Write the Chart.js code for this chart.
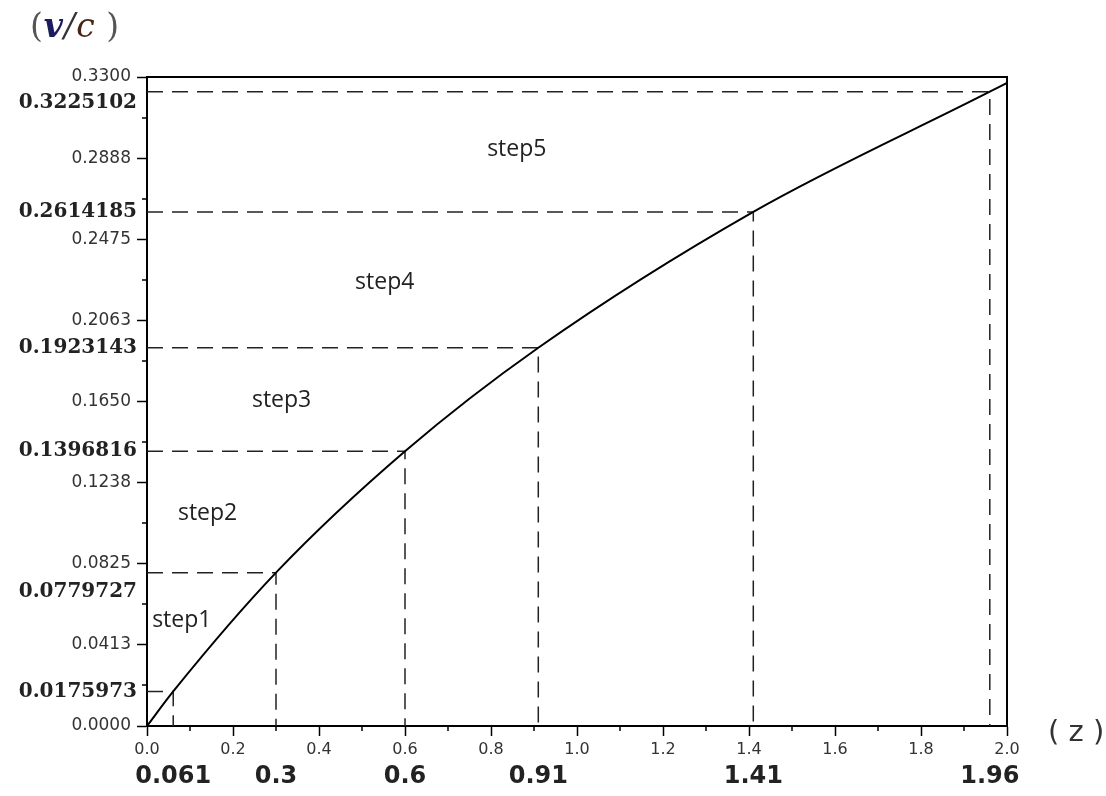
<!DOCTYPE html>
<html>
<head>
<meta charset="utf-8">
<title>v/c against z</title>
<script src="https://cdn.jsdelivr.net/npm/chart.js@4.4.0/dist/chart.umd.min.js"></script>
<style>
  html, body { margin: 0; padding: 0; background: #fff; }
  #wrap { width: 1106px; height: 796px; }
</style>
</head>
<body>
<div id="wrap"><canvas id="myChart" width="1106" height="796"></canvas></div>
<script>
// where each step ends (z) and the v/c read there
var stepZ = [0.061, 0.3, 0.6, 0.91, 1.41, 1.96];
var stepV = [0.0175973, 0.0779727, 0.1396816, 0.1923143, 0.2614185, 0.3225102];
var stepZLabels = ['0.061', '0.3', '0.6', '0.91', '1.41', '1.96'];
var stepVLabels = ['0.0175973', '0.0779727', '0.1396816', '0.1923143', '0.2614185', '0.3225102'];
var stepNames = ['step1', 'step2', 'step3', 'step4', 'step5'];

// the curve
var curveZ = [0, 0.061, 0.3, 0.6, 0.91, 1.41, 1.96, 2.0];
var curveV = [0, 0.0175973, 0.0779727, 0.1396816, 0.1923143, 0.2614185, 0.3225102, 0.327];

// axis ticks
var xTickValues = [0, 0.2, 0.4, 0.6, 0.8, 1.0, 1.2, 1.4, 1.6, 1.8, 2.0];
var xTickLabels = ['0.0', '0.2', '0.4', '0.6', '0.8', '1.0', '1.2', '1.4', '1.6', '1.8', '2.0'];
var yTickValues = [0, 0.04125, 0.0825, 0.12375, 0.165, 0.20625, 0.2475, 0.28875, 0.33];
var yTickLabels = ['0.0000', '0.0413', '0.0825', '0.1238', '0.1650', '0.2063', '0.2475', '0.2888', '0.3300'];


// extra drawing: box, minor ticks, bold step values, step names, axis names
var decorations = {
  id: 'decorations',
  afterDraw: function(chart, args, opts) {
    var ctx = chart.ctx;
    var area = chart.chartArea;
    var xs = chart.scales.x, ys = chart.scales.y;
    ctx.save();

    // top + right edge of the box
    ctx.strokeStyle = '#000';
    ctx.lineWidth = 2;
    ctx.beginPath();
    ctx.moveTo(area.left, area.top);
    ctx.lineTo(area.right, area.top);
    ctx.lineTo(area.right, area.bottom);
    ctx.stroke();

    // minor ticks half way between the labelled ones
    ctx.lineWidth = 1.5;
    ctx.beginPath();
    for (var i = 0; i < xTickValues.length - 1; i++) {
      var px = Math.round(xs.getPixelForValue((xTickValues[i] + xTickValues[i + 1]) / 2));
      ctx.moveTo(px, area.bottom);
      ctx.lineTo(px, area.bottom + 5);
    }
    for (var j = 0; j < yTickValues.length - 1; j++) {
      var py = Math.round(ys.getPixelForValue((yTickValues[j] + yTickValues[j + 1]) / 2));
      ctx.moveTo(area.left, py);
      ctx.lineTo(area.left - 5, py);
    }
    ctx.stroke();

    // bold v/c values on the left
    ctx.fillStyle = '#222';
    ctx.font = 'bold 20px "DejaVu Serif"';
    ctx.textAlign = 'right';
    ctx.textBaseline = 'middle';
    stepV.forEach(function(v, k) {
      ctx.fillText(stepVLabels[k], area.left - 10, ys.getPixelForValue(v) + opts.vNudge[k]);
    });

    // bold z values under the axis
    ctx.font = 'bold 24px "DejaVu Sans"';
    ctx.textAlign = 'center';
    stepZ.forEach(function(z, k) {
      ctx.fillText(stepZLabels[k], xs.getPixelForValue(z), area.bottom + 51);
    });

    // step names
    ctx.font = '23px "Open Sans"';
    ctx.textAlign = 'left';
    stepNames.forEach(function(name, k) {
      var a = opts.nameAt[k];
      ctx.fillText(name, xs.getPixelForValue(a[0]), ys.getPixelForValue(a[1]));
    });

    // (z) at the end of the x axis
    ctx.fillStyle = '#333';
    ctx.font = '29px "DejaVu Sans"';
    ctx.fillText('( z )', area.right + 41, area.bottom + 7);

    // (v/c) above the y axis
    var x = 30, y = 28;
    var parts = [
      ['(', '33px "DejaVu Serif"', '#555'],
      ['v', 'italic bold 33px "DejaVu Serif"', '#1c1c5c'],
      ['/', 'italic 33px "DejaVu Serif"', '#333'],
      ['c', 'italic 33px "DejaVu Serif"', '#4a2412'],
      [' )', '33px "DejaVu Serif"', '#555']
    ];
    parts.forEach(function(p) {
      ctx.font = p[1];
      ctx.fillStyle = p[2];
      ctx.fillText(p[0], x, y);
      x += ctx.measureText(p[0]).width + 1;
    });

    ctx.restore();
  }
};


var datasets = [{
  data: curveZ.map(function(z, i) { return { x: z, y: curveV[i] }; }),
  borderColor: '#000',
  borderWidth: 2,
  pointRadius: 0,
  cubicInterpolationMode: 'monotone',
  fill: false
}];

// dashed guides: from the y axis across to the curve, then down to the x axis
stepZ.forEach(function(z, i) {
  datasets.push({
    data: [{ x: 0, y: stepV[i] }, { x: z, y: stepV[i] }, { x: z, y: 0 }],
    borderColor: '#222',
    borderWidth: 1.5,
    borderDash: [16, 9],
    pointRadius: 0,
    tension: 0,
    fill: false
  });
});

var ctx = document.getElementById('myChart').getContext('2d');
var myChart = new Chart(ctx, {
  type: 'line',
  data: { datasets: datasets },
  plugins: [decorations],
  options: {
    responsive: false,
    animation: false,
    layout: { padding: { top: 77, right: 99, left: 0, bottom: 0 } },
    plugins: {
      legend: { display: false },
      tooltip: { enabled: false },
      decorations: {
        vNudge: [0, 19, 0, 0, 0, 11],
        nameAt: [[0.012, 0.0539], [0.072, 0.1083], [0.244, 0.1657], [0.484, 0.2257], [0.791, 0.2933]]
      }
    },
    scales: {
      x: {
        type: 'linear',
        min: 0,
        max: 2,
        afterBuildTicks: function(scale) {
          scale.ticks = xTickValues.map(function(v) { return { value: v }; });
        },
        afterFit: function(scale) { scale.height = 70; },
        ticks: {
          autoSkip: false,
          maxRotation: 0,
          padding: 4,
          color: '#333',
          font: { family: 'DejaVu Sans', size: 16 },
          callback: function(value, index) { return xTickLabels[index]; }
        },
        grid: { drawOnChartArea: false, tickLength: 10, tickColor: '#000', tickWidth: 1.5 },
        border: { color: '#000', width: 2 }
      },
      y: {
        type: 'linear',
        min: 0,
        max: 0.33,
        afterBuildTicks: function(scale) {
          scale.ticks = yTickValues.map(function(v) { return { value: v }; });
        },
        afterFit: function(scale) { scale.width = 147; },
        ticks: {
          autoSkip: false,
          padding: 6,
          color: '#333',
          font: { family: 'DejaVu Sans', size: 17 },
          callback: function(value, index) { return yTickLabels[index]; }
        },
        grid: { drawOnChartArea: false, tickLength: 10, tickColor: '#000', tickWidth: 1.5 },
        border: { color: '#000', width: 2 }
      }
    }
  }
});
</script>
</body>
</html>
